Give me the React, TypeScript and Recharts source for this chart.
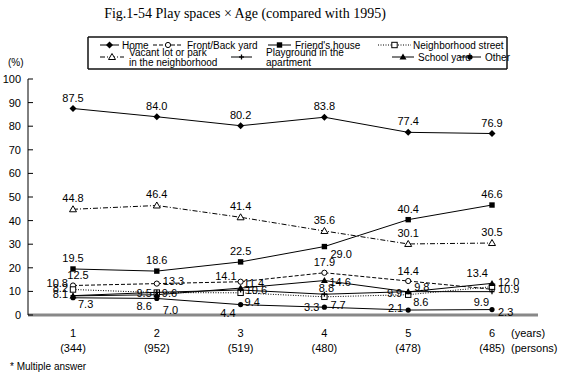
import React from 'react';
import { LineChart, Line, XAxis, YAxis, LabelList } from 'recharts';

const ages = ['1', '2', '3', '4', '5', '6'];
const persons = ['(344)', '(952)', '(519)', '(480)', '(478)', '(485)'];
const home = [87.5, 84.0, 80.2, 83.8, 77.4, 76.9];
const frontBack = [12.5, 13.3, 14.1, 17.9, 14.4, 10.9];
const friends = [19.5, 18.6, 22.5, 29.0, 40.4, 46.6];
const street = [10.8, 9.5, 9.4, 7.7, 8.6, 12.0];
const vacant = [44.8, 46.4, 41.4, 35.6, 30.1, 30.5];
const playground = [8.2, 9.6, 10.6, 8.8, 9.9, 9.9];
const school = [8.1, 8.6, 11.4, 14.6, 9.8, 13.4];
const other = [7.3, 7.0, 4.4, 3.3, 2.1, 2.3];
const yTicks = [0, 10, 20, 30, 40, 50, 60, 70, 80, 90, 100];

const TITLE = 'Fig.1-54 Play spaces \u00d7 Age (compared with 1995)';
const SANS = '"Liberation Sans", Arial, sans-serif';
const SERIF = '"Liberation Serif", "Times New Roman", serif';

type Marker = 'diamond' | 'openCircle' | 'square' | 'openSquare' | 'openTriangle' | 'plus' | 'triangle' | 'dot';

const series: { key: string; name: string[]; values: number[]; dash?: string; marker: Marker }[] = [
  { key: 'home', name: ['Home'], values: home, marker: 'diamond' },
  { key: 'frontBack', name: ['Front/Back yard'], values: frontBack, dash: '4 2', marker: 'openCircle' },
  { key: 'friends', name: ["Friend's house"], values: friends, marker: 'square' },
  { key: 'street', name: ['Neighborhood street'], values: street, dash: '1 1.5', marker: 'openSquare' },
  { key: 'vacant', name: ['Vacant lot or park', 'in the neighborhood'], values: vacant, dash: '5 2 1 2', marker: 'openTriangle' },
  { key: 'playground', name: ['Playground in the', 'apartment'], values: playground, marker: 'plus' },
  { key: 'school', name: ['School yard'], values: school, marker: 'triangle' },
  { key: 'other', name: ['Other'], values: other, marker: 'dot' },
];

// label placement per point: [dx, dy, anchor]  (style only)
type Off = [number, number, 'start' | 'middle' | 'end'];
const T: Off = [0, -7, 'middle'];
const labelOffsets: Record<string, Off[]> = {
  home: [T, T, T, T, T, T],
  frontBack: [[5, -7, 'middle'], [6, 1, 'start'], [-4, -2, 'end'], T, [0, -6, 'middle'], [6, 4, 'start']],
  friends: [T, T, T, [6, 11, 'start'], T, T],
  street: [[-5, -3, 'end'], [-5, 4, 'end'], [4, 13, 'start'], [6, 12, 'start'], [5, 11, 'start'], [6, -1, 'start']],
  vacant: [T, T, T, T, T, T],
  playground: [[-5, -4, 'end'], [5, 5, 'start'], [5, 4, 'start'], [2, -2, 'middle'], [-6, 5, 'end'], [-3, 14, 'end']],
  school: [[-5, 2, 'end'], [-5, 15, 'end'], [3, -1, 'start'], [5, 5, 'start'], [6, -1, 'start'], [-4, -6, 'end']],
  other: [[5, 10, 'start'], [6, 16, 'start'], [-5, 12, 'end'], [-5, 4, 'end'], [-5, 2, 'end'], [6, 6, 'start']],
};

const data = ages.map((a, i) => {
  const row: Record<string, any> = { age: a, persons: persons[i] };
  series.forEach((s) => (row[s.key] = s.values[i]));
  return row;
});

function drawMarker(type: Marker, cx: number, cy: number, key?: any) {
  switch (type) {
    case 'diamond':
      return <polygon key={key} points={`${cx},${cy - 3.5} ${cx + 3.5},${cy} ${cx},${cy + 3.5} ${cx - 3.5},${cy}`} fill="#000" />;
    case 'openCircle':
      return <circle key={key} cx={cx} cy={cy} r={2.6} fill="#fff" stroke="#000" strokeWidth={1} />;
    case 'square':
      return <rect key={key} x={cx - 2.7} y={cy - 2.7} width={5.4} height={5.4} fill="#000" />;
    case 'openSquare':
      return <rect key={key} x={cx - 2.7} y={cy - 2.7} width={5.4} height={5.4} fill="#fff" stroke="#000" strokeWidth={1} />;
    case 'openTriangle':
      return <polygon key={key} points={`${cx},${cy - 3.5} ${cx + 3.5},${cy + 2.5} ${cx - 3.5},${cy + 2.5}`} fill="#fff" stroke="#000" strokeWidth={1} />;
    case 'triangle':
      return <polygon key={key} points={`${cx},${cy - 3.5} ${cx + 3.5},${cy + 2.5} ${cx - 3.5},${cy + 2.5}`} fill="#000" />;
    case 'plus':
      return (
        <g key={key} stroke="#000" strokeWidth={1.3}>
          <line x1={cx - 2.5} y1={cy} x2={cx + 2.5} y2={cy} />
          <line x1={cx} y1={cy - 2.5} x2={cx} y2={cy + 2.5} />
        </g>
      );
    case 'dot':
    default:
      return <circle key={key} cx={cx} cy={cy} r={2.6} fill="#000" />;
  }
}

const XTick = (props: any) => {
  const { x, y, payload, index } = props;
  return (
    <g>
      <text x={x} y={y + 22} textAnchor="middle" fontSize={11} fontFamily={SANS} fill="#000">
        {payload.value}
      </text>
      <text x={x} y={y + 37} textAnchor="middle" fontSize={11} fontFamily={SANS} fill="#000">
        {persons[index]}
      </text>
    </g>
  );
};

const YTick = (props: any) => {
  const { x, y, payload } = props;
  return (
    <g>
      <line x1={x} y1={y} x2={x + 5} y2={y} stroke="#000" strokeWidth={1} />
      <text x={x - 7} y={y + 4} textAnchor="end" fontSize={11} fontFamily={SANS} fill="#000">
        {payload.value}
      </text>
    </g>
  );
};

const makeLabel = (skey: string) => (props: any) => {
  const { x, y, value, index } = props;
  const o = labelOffsets[skey][index] || T;
  return (
    <text key={`${skey}-l-${index}`} x={x + o[0]} y={y + o[1]} textAnchor={o[2]} fontSize={11} fontFamily={SANS} fill="#000">
      {Number(value).toFixed(1)}
    </text>
  );
};

// legend layout (style)
const legendItems: { x1: number; x2: number; tx: number; row: number }[] = [
  { x1: 100, x2: 119, tx: 122, row: 0 },
  { x1: 153, x2: 183, tx: 187, row: 0 },
  { x1: 268, x2: 291, tx: 295, row: 0 },
  { x1: 378, x2: 411, tx: 413, row: 0 },
  { x1: 100, x2: 124, tx: 129, row: 1 },
  { x1: 231, x2: 252, tx: 266, row: 1 },
  { x1: 392, x2: 414, tx: 418, row: 1 },
  { x1: 459, x2: 481, tx: 485, row: 1 },
];

const BOX = { l: 88, r: 507, t: 37, b: 69 };

export default function App() {
  return (
    <div style={{ position: 'absolute', left: 0, top: 0, width: 562, height: 375, background: '#fff' }}>
      <div style={{ position: 'absolute', left: 0, top: 0 }}>
        <LineChart width={562} height={375} data={data} margin={{ top: 79, right: 24, bottom: 0, left: 0 }}>
          <XAxis
            dataKey="age"
            tick={<XTick />}
            tickLine={false}
            tickSize={0}
            tickMargin={0}
            height={60}
            padding={{ left: 45, right: 46 }}
            axisLine={{ stroke: '#888', strokeWidth: 3 }}
            interval={0}
          />
          <YAxis
            domain={[0, 100]}
            ticks={yTicks}
            width={28}
            tick={<YTick />}
            tickLine={false}
            tickSize={0}
            tickMargin={0}
            axisLine={{ stroke: '#000', strokeWidth: 1 }}
            interval={0}
          />
          {series.map((s) => (
            <Line
              key={s.key}
              dataKey={s.key}
              stroke="#000"
              strokeWidth={1}
              strokeDasharray={s.dash}
              isAnimationActive={false}
              dot={(p: any) => drawMarker(s.marker, p.cx, p.cy, `${s.key}-d-${p.index}`)}
              activeDot={false}
            >
              <LabelList dataKey={s.key} content={makeLabel(s.key)} />
            </Line>
          ))}
        </LineChart>
      </div>
      <svg width={562} height={375} style={{ position: 'absolute', left: 0, top: 0, pointerEvents: 'none' }}>
        <text x={245} y={18} textAnchor="middle" fontSize={14} fontFamily={SERIF} fill="#000">
          {TITLE}
        </text>
        <g stroke="#111" strokeWidth={1.5}>
          <line x1={BOX.l} y1={BOX.t} x2={BOX.r} y2={BOX.t} />
          <line x1={BOX.l} y1={BOX.b} x2={BOX.r} y2={BOX.b} />
          <line x1={BOX.l} y1={BOX.t} x2={BOX.l} y2={BOX.b} />
          <line x1={BOX.r} y1={BOX.t} x2={BOX.r} y2={BOX.b} />
        </g>
        {series.map((s, i) => {
          const li = legendItems[i];
          const cy = li.row === 0 ? 45 : 57;
          const mx = (li.x1 + li.x2) / 2;
          return (
            <g key={s.key}>
              <line x1={li.x1} y1={cy} x2={li.x2} y2={cy} stroke="#000" strokeWidth={1} strokeDasharray={s.dash} />
              {drawMarker(s.marker, mx, cy)}
              {s.name.length === 1 ? (
                <text x={li.tx} y={cy + 3.5} fontSize={10} fontFamily={SANS} fill="#000">
                  {s.name[0]}
                </text>
              ) : (
                <>
                  <text x={li.tx} y={cy - 1.5} fontSize={10} fontFamily={SANS} fill="#000">
                    {s.name[0]}
                  </text>
                  <text x={li.tx} y={cy + 8.5} fontSize={10} fontFamily={SANS} fill="#000">
                    {s.name[1]}
                  </text>
                </>
              )}
            </g>
          );
        })}
        <text x={8} y={66} fontSize={10} fontFamily={SANS} fill="#000">(%)</text>
        <text x={511} y={337} fontSize={11} fontFamily={SANS} fill="#000">(years)</text>
        <text x={511} y={352} fontSize={11} fontFamily={SANS} fill="#000">(persons)</text>
        <text x={10} y={370} fontSize={10} fontFamily={SANS} fill="#000">* Multiple answer</text>
      </svg>
    </div>
  );
}
